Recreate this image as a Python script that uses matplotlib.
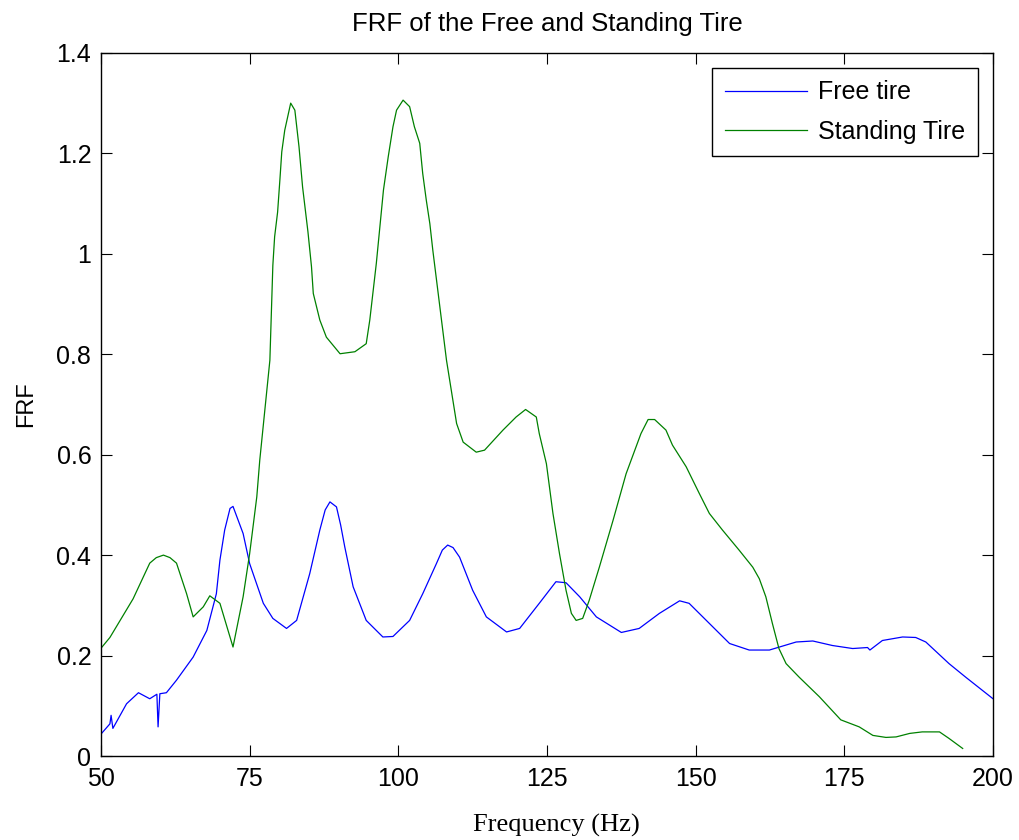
import matplotlib
matplotlib.use("Agg")
import matplotlib.pyplot as plt
from matplotlib.ticker import FuncFormatter

# Free tire FRF
free_f = [50.1, 51.5, 51.7, 52.0, 54.3, 56.3, 58.2, 59.4, 59.6, 59.9, 61.0, 62.7,
          65.5, 67.8, 69.4, 70.0, 70.8, 71.7, 72.2, 73.9, 75.0, 77.3, 78.9, 81.2,
          82.9, 85.1, 86.8, 87.7, 88.5, 89.6, 90.3, 91.0, 92.4, 94.6, 97.4, 99.1,
          101.9, 104.1, 106.4, 107.4, 108.3, 109.2, 110.3, 112.5, 114.8, 118.2,
          120.4, 123.7, 126.5, 128.2, 130.5, 133.3, 137.5, 140.5, 143.9, 147.3,
          148.9, 152.3, 155.7, 159.0, 162.4, 166.9, 169.7, 173.0, 176.4, 178.9,
          179.3, 181.4, 184.8, 187.0, 188.7, 192.6, 195.4, 200.0]
free_v = [0.045, 0.064, 0.081, 0.055, 0.104, 0.126, 0.114, 0.123, 0.058, 0.124,
          0.126, 0.151, 0.197, 0.250, 0.323, 0.390, 0.450, 0.493, 0.497, 0.443,
          0.383, 0.304, 0.274, 0.254, 0.270, 0.363, 0.450, 0.490, 0.506, 0.496,
          0.460, 0.416, 0.337, 0.270, 0.237, 0.238, 0.270, 0.323, 0.383, 0.410,
          0.420, 0.415, 0.396, 0.330, 0.277, 0.247, 0.254, 0.304, 0.347, 0.345,
          0.317, 0.277, 0.246, 0.254, 0.284, 0.309, 0.304, 0.264, 0.224, 0.211,
          0.211, 0.227, 0.229, 0.220, 0.214, 0.216, 0.211, 0.230, 0.237, 0.236,
          0.227, 0.184, 0.157, 0.114]

# Standing tire FRF
stand_f = [50.1, 51.5, 55.4, 58.2, 59.3, 60.5, 61.6, 62.7, 64.4, 65.5, 67.2,
           68.3, 70.0, 72.2, 73.9, 75.0, 76.2, 76.7, 78.4, 78.9, 79.2, 79.7,
           80.1, 80.4, 80.9, 81.9, 82.6, 83.3, 83.9, 84.8, 85.4, 85.7, 86.8,
           87.9, 90.2, 92.7, 94.6, 95.2, 96.3, 96.9, 97.5, 98.3, 99.1, 99.7,
           100.8, 101.9, 102.7, 103.6, 104.1, 104.7, 105.3, 105.8, 108.1, 109.8,
           110.9, 113.1, 114.5, 117.6, 119.8, 121.4, 123.2, 123.7, 124.9, 126.0,
           127.1, 128.2, 129.1, 129.9, 131.0, 132.1, 133.8, 136.1, 138.3, 140.8,
           142.0, 143.1, 145.0, 146.1, 148.4, 150.6, 152.3, 154.5, 157.3, 159.6,
           160.7, 161.8, 162.9, 164.0, 165.2, 167.4, 170.8, 174.4, 177.5, 179.8,
           182.0, 183.7, 186.0, 188.1, 191.0, 192.6, 194.9]
stand_v = [0.216, 0.236, 0.313, 0.384, 0.395, 0.400, 0.395, 0.384, 0.323, 0.277,
           0.297, 0.319, 0.304, 0.217, 0.317, 0.403, 0.516, 0.589, 0.788, 0.977,
           1.034, 1.083, 1.150, 1.203, 1.246, 1.300, 1.286, 1.213, 1.133, 1.044,
           0.974, 0.921, 0.868, 0.834, 0.801, 0.805, 0.821, 0.868, 0.981, 1.054,
           1.127, 1.193, 1.253, 1.286, 1.306, 1.293, 1.253, 1.220, 1.160, 1.107,
           1.060, 1.007, 0.788, 0.662, 0.625, 0.605, 0.609, 0.649, 0.675, 0.690,
           0.675, 0.642, 0.582, 0.483, 0.403, 0.330, 0.284, 0.270, 0.274, 0.310,
           0.376, 0.469, 0.562, 0.642, 0.670, 0.670, 0.649, 0.619, 0.576, 0.523,
           0.483, 0.450, 0.410, 0.376, 0.353, 0.317, 0.264, 0.214, 0.184, 0.157,
           0.118, 0.072, 0.058, 0.041, 0.037, 0.038, 0.045, 0.048, 0.048, 0.035,
           0.015]

x_ticks = [50, 75, 100, 125, 150, 175, 200]
y_ticks = [0, 0.2, 0.4, 0.6, 0.8, 1.0, 1.2, 1.4]

plt.rcParams['font.family'] = ['Liberation Sans', 'DejaVu Sans']

fig = plt.figure(figsize=(10.19, 8.4), dpi=100)
ax = fig.add_axes([0.0991, 0.1, 0.8754, 0.837])

ax.plot(free_f, free_v, color='#0000ff', lw=0.9, label='Free tire')
ax.plot(stand_f, stand_v, color='#008000', lw=0.9, label='Standing Tire')

ax.set_xlim(50, 200)
ax.set_ylim(0, 1.4)
ax.set_xticks(x_ticks)
ax.set_yticks(y_ticks)
ax.yaxis.set_major_formatter(FuncFormatter(lambda v, p: f"{v:g}"))
ax.tick_params(direction='in', length=8, width=0.8, labelsize=18,
               top=True, right=True)
ax.tick_params(axis='x', pad=8)
ax.tick_params(axis='y', pad=7)
for s in ax.spines.values():
    s.set_linewidth(1.0)

ax.set_title('FRF of the Free and Standing Tire', fontsize=18.5, pad=16)
ax.set_xlabel('Frequency (Hz)', fontsize=19, family='Liberation Serif')
ax.xaxis.set_label_coords(0.51, -0.083)
ax.set_ylabel('FRF', fontsize=17, labelpad=14)

leg = ax.legend(loc='upper right', fontsize=18, fancybox=False, edgecolor='black',
                framealpha=1, handlelength=3.3, handletextpad=0.45,
                borderaxespad=0.6, borderpad=0.5, labelspacing=0.62)
leg.get_frame().set_linewidth(1.0)

fig.savefig('out.png', dpi=100)
